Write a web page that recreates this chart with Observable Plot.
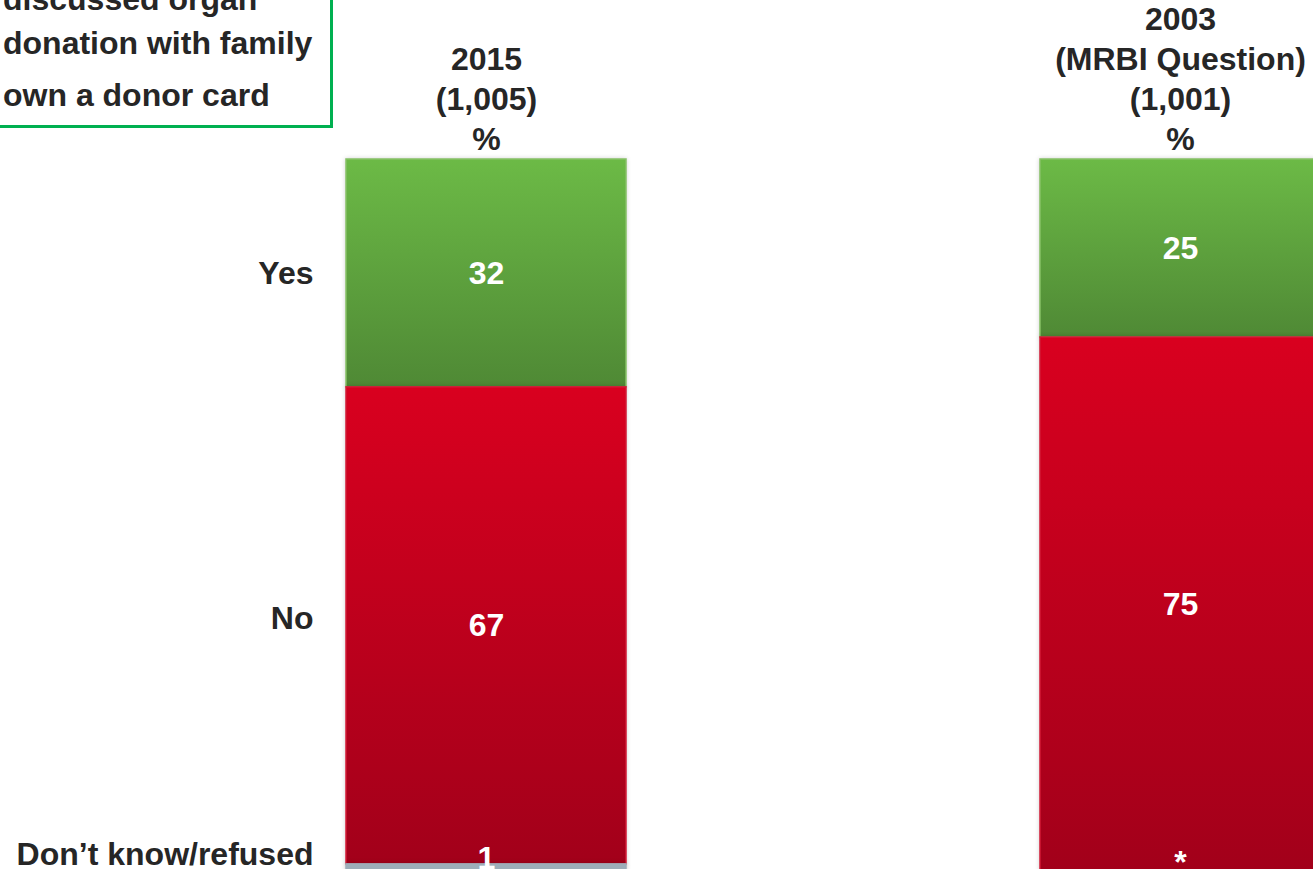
<!DOCTYPE html>
<html>
<head>
<meta charset="utf-8">
<script src="https://cdn.jsdelivr.net/npm/d3@7"></script>
<script src="https://cdn.jsdelivr.net/npm/@observablehq/plot@0.6"></script>
<style>
  body { margin: 0; background: #fff; overflow: hidden; font-family: "Liberation Sans", Arial, sans-serif; }
  #wrap { position: relative; width: 1313px; height: 869px; overflow: hidden; }
  #legend { position: absolute; left: -40px; top: -60px; width: 373px; height: 188px; border: 3px solid #00b050; box-sizing: border-box; background: #fff; }
  .lg { position: absolute; left: 3px; font-size: 32px; font-weight: bold; color: #262626; line-height: 44px; white-space: nowrap; }
  #chart { position: absolute; left: 0; top: 0; }
</style>
</head>
<body>
<div id="wrap">
  <div id="chart"></div>
  <div id="legend"></div>
</div>
<script>
// ---- data ----
const years = ["2015", "2003"];
const headers = ["2015\n(1,005)\n%", "2003\n(MRBI Question)\n(1,001)\n%"];
const responses = ["Yes", "No", "Don’t know/refused"];
const values2015 = [32, 67, 1];
const values2003 = [25, 75, 0];
const legendLines = [["discussed organ", "donation with family"], ["own a donor card"]];

const fills = {"Yes": "url(#gGreen)", "No": "url(#gRed)", "Don’t know/refused": "#9dadb9"};
const strokes = {"Yes": "#86c166", "No": "#d21a36", "Don’t know/refused": "#9dadb9"};

const series = [values2015, values2003];
const data = [];
years.forEach((y, i) => responses.forEach((r, j) => data.push({year: y, resp: r, value: series[i][j]})));
const headerData = years.map((y, i) => ({year: y, text: headers[i]}));
const label = d => d.value === 0 ? "*" : String(d.value);

const font = {fontFamily: "Liberation Sans, Arial, sans-serif", fontWeight: "bold", fontSize: 32};

const chart = Plot.plot({
  width: 1313,
  height: 869,
  margin: 0,
  style: {background: "transparent", overflow: "visible"},
  x: {type: "band", domain: years, range: [345, 1320], paddingInner: 0.597, paddingOuter: 0, axis: null},
  y: {domain: [0, 100], range: [159, 871], axis: null},
  color: {type: "identity"},
  marks: [
    Plot.barY(data, Plot.stackY({x: "year", y: "value", fill: d => fills[d.resp], stroke: d => strokes[d.resp], strokeWidth: 1.5, z: "resp", order: null, inset: 0})),
    // value labels
    Plot.text(data, Plot.stackY({x: "year", y: "value", z: "resp", order: null,
      text: d => d.resp === "Don’t know/refused" ? null : label(d), fill: "#fff", ...font})),
    Plot.text(data, Plot.stackY({x: "year", y: "value", z: "resp", order: null,
      text: d => d.resp === "Don’t know/refused" ? label(d) : null, fill: "#fff", dy: -9, ...font})),
    // row labels
    Plot.text(data, Plot.stackY({x: "year", y: "value", z: "resp", order: null,
      text: d => d.year === "2015" && d.resp === "Yes" ? d.resp : null, textAnchor: "end", dx: -173, fill: "#262626", ...font})),
    Plot.text(data, Plot.stackY({x: "year", y: "value", z: "resp", order: null,
      text: d => d.year === "2015" && d.resp === "No" ? d.resp : null, textAnchor: "end", dx: -173, dy: -7, fill: "#262626", ...font})),
    Plot.text(data, Plot.stackY({x: "year", y: "value", z: "resp", order: null,
      text: d => d.year === "2015" && d.resp === "Don’t know/refused" ? d.resp : null, textAnchor: "end", dx: -173, dy: -13, fill: "#262626", ...font})),
    // column headers
    Plot.text(headerData, {x: "year", y: 0, text: "text", lineAnchor: "bottom", lineHeight: 40 / 32, dy: -10, fill: "#262626", ...font})
  ]
});

const defs = document.createElementNS("http://www.w3.org/2000/svg", "defs");
defs.innerHTML = `
  <linearGradient id="gGreen" x1="0" y1="0" x2="0" y2="1">
    <stop offset="0" stop-color="#6cba46"/><stop offset="1" stop-color="#4f8935"/>
  </linearGradient>
  <linearGradient id="gRed" x1="0" y1="0" x2="0" y2="1">
    <stop offset="0" stop-color="#d9001f"/><stop offset="1" stop-color="#a2001a"/>
  </linearGradient>`;
chart.insertBefore(defs, chart.firstChild);
chart.querySelectorAll("rect").forEach(r => r.style.filter = "drop-shadow(0 0 2px rgba(0,0,0,0.18))");
document.getElementById("chart").appendChild(chart);

// legend
const wrap = document.getElementById("wrap");
const tops = [-23, 73];
legendLines.forEach((lines, i) => {
  const div = document.createElement("div");
  div.className = "lg";
  div.style.top = tops[i] + "px";
  div.innerHTML = lines.join("<br>");
  wrap.appendChild(div);
});
</script>
</body>
</html>
